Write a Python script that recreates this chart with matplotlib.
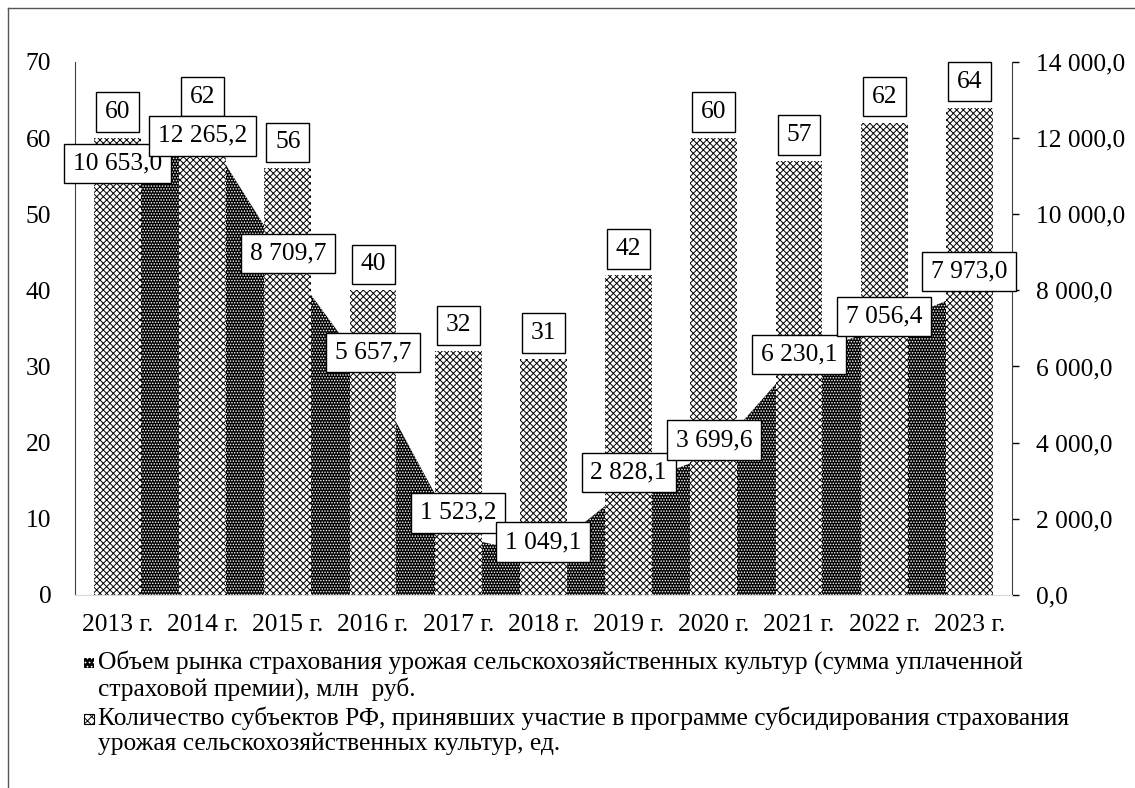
import matplotlib
matplotlib.use("Agg")
import matplotlib.pyplot as plt
from matplotlib.patches import Rectangle
from matplotlib.lines import Line2D

plt.rcParams["font.family"] = ["Liberation Serif", "DejaVu Serif"]
plt.rcParams["font.size"] = 18.4
plt.rcParams["hatch.linewidth"] = 0.7

# ---------------------------------------------------------------------
# Datos
# ---------------------------------------------------------------------
anios = ["2013 г.", "2014 г.", "2015 г.", "2016 г.", "2017 г.", "2018 г.",
         "2019 г.", "2020 г.", "2021 г.", "2022 г.", "2023 г."]
prima_mln = [10653.0, 12265.2, 8709.7, 5657.7, 1523.2, 1049.1,
             2828.1, 3699.6, 6230.1, 7056.4, 7973.0]
n_subjektov = [60, 62, 56, 40, 32, 31, 42, 60, 57, 62, 64]

etiqueta_prima = "Объем рынка страхования урожая сельскохозяйственных культур (сумма уплаченной\nстраховой премии), млн  руб."
etiqueta_subj = "Количество субъектов РФ, принявших участие в программе субсидирования страхования\nурожая сельскохозяйственных культур, ед."

# desplazamiento vertical (px) de cada etiqueta del área respecto a su punto
dy_prima = [26, -8, 10, 27, 24, 13, 15, 14, 3, 10, 20]


def fmt_ru(v):
    return f"{v:,.1f}".replace(",", " ").replace(".", ",")


x = list(range(len(anios)))
W, H = 1135, 788

fig = plt.figure(figsize=(W / 100, H / 100), dpi=100)
ax = fig.add_axes([0.066, 0.245, 0.8256, 0.6765])
ax2 = ax.twinx()
ax.set_zorder(ax2.get_zorder() + 1)
ax.patch.set_visible(False)

# área oscura (eje derecho)
ax2.fill_between(x, prima_mln, 0, facecolor="black", edgecolor="white",
                 hatch="......", linewidth=0, zorder=1)

# barras (eje izquierdo)
ax.bar(x, n_subjektov, width=0.55, color="white", edgecolor="black",
       hatch="xxxxx", linewidth=0, zorder=2)

box = dict(boxstyle="square,pad=0.34", fc="white", ec="black", lw=1)
for xi, v in zip(x, n_subjektov):
    ax.annotate(str(v), (xi, v), xytext=(0, 15), textcoords="offset pixels",
                ha="center", va="bottom", bbox=box, zorder=6)
for xi, v, dy in zip(x, prima_mln, dy_prima):
    ax.annotate(fmt_ru(v), (xi, v), xycoords=ax2.transData, xytext=(0, dy),
                textcoords="offset pixels", ha="center", va="center",
                bbox=box, zorder=7, annotation_clip=False)

ax.set_xlim(-0.5, len(anios) - 0.5)
ax.set_ylim(0, 70)
ax.set_yticks(range(0, 71, 10))
ax2.set_ylim(0, 14000)
ax2.set_yticks(range(0, 14001, 2000))
ax2.set_yticklabels([fmt_ru(t) for t in range(0, 14001, 2000)])
ax.set_xticks(x)
ax.set_xticklabels(anios)

ax.tick_params(axis="y", length=0, pad=17)
ax.tick_params(axis="x", length=0, pad=14)
ax2.tick_params(axis="y", length=5, width=1, pad=12, direction="out")
for lab in ax2.get_yticklabels():
    lab.set_horizontalalignment("left")

for s in ["top", "right"]:
    ax.spines[s].set_visible(False)
ax.spines["bottom"].set_color("#d9d9d9")
ax.spines["left"].set_color("#404040")
for s in ["top", "left", "bottom"]:
    ax2.spines[s].set_visible(False)
ax2.spines["right"].set_color("#404040")

# leyenda (a mano: el marcador va junto a la primera línea)
for (y_txt, etiqueta, estilo) in [
        (650, etiqueta_prima, dict(facecolor="black", edgecolor="white", hatch="....", linewidth=0)),
        (706, etiqueta_subj, dict(facecolor="white", edgecolor="black", hatch="xxxx", linewidth=0.8))]:
    fig.add_artist(Rectangle((84 / W, 1 - (y_txt + 18) / H), 10 / W, 10 / H,
                             transform=fig.transFigure, **estilo))
    fig.text(98 / W, 1 - y_txt / H, etiqueta, ha="left", va="top", linespacing=1.17)

# marco exterior
fig.add_artist(Line2D([8 / W, 8 / W], [0, 1 - 8 / H], transform=fig.transFigure,
                      color="#555555", lw=1))
fig.add_artist(Line2D([8 / W, 1], [1 - 8 / H, 1 - 8 / H], transform=fig.transFigure,
                      color="#555555", lw=1))

fig.savefig("out.png", dpi=100)
